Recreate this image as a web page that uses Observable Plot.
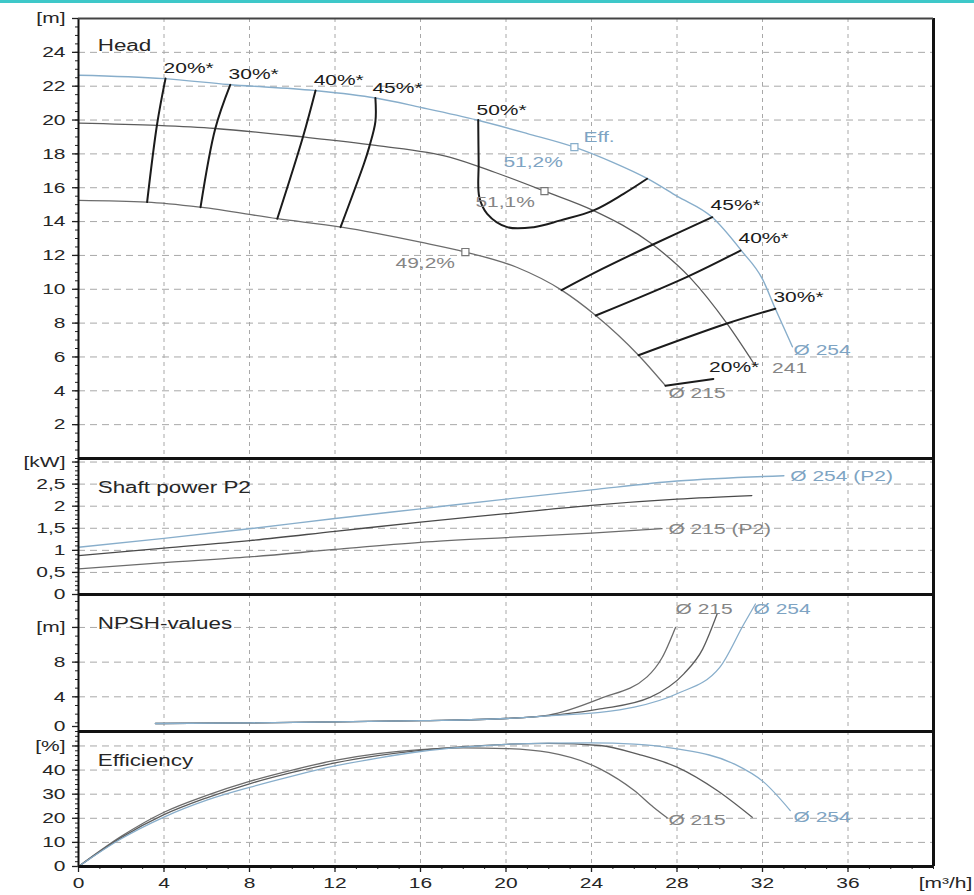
<!DOCTYPE html>
<html><head><meta charset="utf-8">
<script src="https://cdn.jsdelivr.net/npm/d3@7"></script>
<script src="https://cdn.jsdelivr.net/npm/@observablehq/plot@0.6"></script>
<style>
body{margin:0;background:#fff;}
#chart{position:relative;width:974px;height:895px;overflow:hidden;background:#fff;}
#chart svg{position:absolute;left:0;overflow:visible;}
#bar{position:absolute;left:0;top:0;width:974px;height:3px;background:#3ec8c9;z-index:5;}
</style></head>
<body><div id="chart"><div id="bar"></div></div>
<script>
// ---------- shared x axis (flow Q, m³/h) ----------
const xDomain = [0, 40];
const xTicks = [0, 4, 8, 12, 16, 20, 24, 28, 32, 36];
const xGrid = [4, 8, 12, 16, 20, 24, 28, 32, 36];
const xMinor = d3.range(0, 40.001, 1);
const xUnit = ["[m³/h]"];

// ---------- panel titles ----------
const panelTitles = ["Head", "Shaft power P2", "NPSH-values", "Efficiency"];
const panelTitleQ = [0.9, 0.9, 0.9, 0.9];
const panelTitleV = [24.4, 2.42, 12.46, 44];

// ---------- HEAD [m] ----------
const headDomain = [0, 26];
const headTicks = [2, 4, 6, 8, 10, 12, 14, 16, 18, 20, 22, 24, 26];
const headUnitTick = 26, headUnit = "[m]";
const headGrid = [2, 4, 6, 8, 10, 12, 14, 16, 18, 20, 22, 24];
const headMinor = d3.range(0, 26.001, 0.5);

const head254 = [[0,22.65],[4,22.45],[7,22.1],[11,21.75],[13.9,21.3],[16,20.75],[18.65,20.0],[21,19.2],[23.2,18.4],[25,17.5],[26.6,16.55],[28,15.5],[29.65,14.25],[31,12.3],[32,10.6],[32.6,8.85],[33.4,6.6]];
const head241 = [[0,19.82],[3.7,19.68],[6.4,19.5],[10.5,19.0],[13.9,18.5],[17.4,17.8],[19.5,16.9],[21.8,15.8],[24.1,14.65],[26.8,12.7],[28.6,10.7],[30.35,7.95],[31.6,5.6]];
const head215 = [[0,15.25],[3.2,15.15],[5.7,14.85],[9.3,14.17],[12.3,13.67],[16,12.78],[18.1,12.2],[20.5,11.3],[22.6,9.95],[24.2,8.45],[26.2,6.1],[27.46,4.3]];

// iso-efficiency lines
const iso20 = [[4.07,22.45],[3.68,19.78],[3.21,15.15]];
const iso30 = [[7.1,22.08],[6.4,19.5],[5.71,14.85]];
const iso40 = [[11.09,21.75],[10.5,19.0],[9.3,14.17]];
const iso45 = [[13.89,21.3],[13.89,19.9],[13.6,18.4],[13.35,17.4],[12.26,13.67]];
const iso50 = [[18.7,20.0],[18.72,17.5],[18.75,15.45],[19.12,14.46],[20.06,13.67],[21.3,13.67],[22.55,14.07],[24.1,14.66],[25.5,15.64],[26.6,16.53]];
const iso45r = [[22.6,9.95],[24.5,11.2],[26.8,12.6],[29.65,14.26]];
const iso40r = [[24.2,8.45],[28.5,10.75],[30.97,12.29]];
const iso30r = [[26.2,6.1],[30.3,7.96],[32.6,8.85]];
const iso20r = [[27.46,4.3],[29.7,4.7]];

const isoLabels = ["20%*", "30%*", "40%*", "45%*", "50%*", "45%*", "40%*", "30%*", "20%*"];
const isoLabelQ = [3.98, 7.02, 11.0, 13.75, 18.62, 29.57, 30.88, 32.51, 29.5];
const isoLabelH = [23.05, 22.7, 22.34, 21.87, 20.57, 14.95, 13.0, 9.52, 5.38];

// best-efficiency markers
const bepBlueQ = [23.2], bepBlueH = [18.4];
const bepGrayQ = [21.8, 18.1], bepGrayH = [15.8, 12.2];
const blueHeadLabels = ["Eff.", "51,2%", "Ø 254"];
const blueHeadLabelQ = [23.63, 19.88, 33.45];
const blueHeadLabelH = [18.97, 17.49, 6.4];
const grayHeadLabels = ["51,1%", "49,2%", "241", "Ø 215"];
const grayHeadLabelQ = [18.57, 14.83, 32.45, 27.6];
const grayHeadLabelH = [15.13, 11.52, 5.33, 3.84];

// ---------- SHAFT POWER P2 [kW] ----------
const powDomain = [0, 3.08];
const powTicks = [0, 0.5, 1, 1.5, 2, 2.5, 3];
const powUnitTick = 3, powUnit = "[kW]";
const powGrid = [0.5, 1, 1.5, 2, 2.5, 3];
const powMinor = d3.range(0, 3.0001, 0.1);
const pow254 = [[0,1.07],[4,1.27],[8,1.49],[12,1.72],[16,1.94],[20,2.16],[24,2.37],[28,2.57],[33,2.69]];
const pow241 = [[0,0.88],[4,1.05],[8,1.22],[12,1.43],[16,1.64],[20,1.83],[24,2.02],[28,2.16],[31.5,2.24]];
const pow215 = [[0,0.58],[4,0.72],[8,0.85],[12,1.02],[16,1.18],[20,1.29],[24,1.39],[27.3,1.49]];
const powLabels = ["Ø 254 (P2)", "Ø 215 (P2)"];
const powLabelQ = [33.3, 27.6];
const powLabelV = [2.69, 1.49];

// ---------- NPSH [m] ----------
const npshDomain = [0, 15.8];
const npshTicks = [4, 8, 12];
const npshZeroTick = [0];
const npshUnitTick = 12, npshUnit = "[m]";
const npshGrid = [4, 8, 12];
const npshMinor = d3.range(0, 15.001, 1);
const npsh215 = [[3.6,0.92],[8,1.0],[12,1.1],[16,1.25],[20,1.5],[22,1.9],[24.4,3.8],[26.6,6.3],[27.3,8.5],[27.93,12.0]];
const npsh241 = [[3.6,0.92],[8,1.0],[12,1.1],[16,1.25],[20,1.5],[22.5,1.95],[24.4,2.6],[26.76,3.96],[28.32,6.65],[29.2,9.5],[29.88,13.57]];
const npsh254 = [[3.6,0.92],[8,1.0],[12,1.1],[16,1.25],[20,1.5],[22.5,1.9],[24.4,2.2],[26,2.8],[28,4.35],[30,7.4],[31.13,12.4],[31.67,14.7]];
const npshLabels = ["Ø 215", "Ø 254"];
const npshLabelQ = [27.93, 31.58];
const npshLabelV = [14.07, 14.07];

// ---------- EFFICIENCY [%] ----------
const effDomain = [0, 56];
const effTicks = [0, 10, 20, 30, 40, 50];
const effUnitTick = 50, effUnit = "[%]";
const effGrid = [10, 20, 30, 40, 50];
const effMinor = d3.range(0, 56.001, 2);
const eff215 = [[0,0],[2,12.5],[4,22.5],[6,29.5],[8,35.3],[10,40],[12,44],[14,46.8],[16,48.5],[18,49.2],[20,48.9],[22,47.3],[24.4,40.5],[26,31.5],[26.9,24.6],[27.54,20.2]];
const eff241 = [[0,0],[2,12],[4,21.5],[6,28.5],[8,34.3],[10,39],[12,43],[14,46],[16,48.2],[18,49.7],[20,50.7],[22,51.1],[24.4,50.2],[26.2,46.5],[28,41.2],[29.88,31.5],[31.52,20.4]];
const eff254 = [[0,0],[2,11.5],[4,20.5],[6,27.5],[8,32.8],[10,37.5],[12,41.7],[14,45],[16,47.7],[18,49.5],[20,50.7],[22,51.2],[24,51.3],[26,50.8],[28,48.8],[30.66,42.6],[32.06,35],[33.3,23.2]];
const effLabels = ["Ø 215", "Ø 254"];
const effLabelQ = [27.6, 33.45];
const effLabelV = [19.1, 20.3];

// ---------- styling ----------
const W = 974, ML = 78, MR = 41, STRETCH = 1.4;
const FONT = "'Liberation Sans', Arial, Helvetica, sans-serif";
const BLUE = "#88aecb", BLUE_TXT = "#7ea4c3", G241 = "#5c5c5c", G215 = "#6c6c6c", GRAY_TXT = "#858585", INK = "#1b1b1b", TXT = "#262626";
const GRID = "#a8a8a8";
const fmt = (unitTick, unit) => d => d === unitTick ? unit : String(d).replace(".", ",");
const X = d => d[0], Y = d => d[1];
const container = document.getElementById("chart");

function stretchText(svg, s) {
  svg.querySelectorAll("text").forEach(t => {
    const b = t.getBBox();
    const a = getComputedStyle(t).textAnchor;
    const ax = a === "end" ? b.x + b.width : a === "middle" ? b.x + b.width / 2 : b.x;
    const prev = t.getAttribute("transform") || "";
    t.setAttribute("transform", `${prev} translate(${ax},0) scale(${s},1) translate(${-ax},0)`);
  });
}

function line(data, stroke, w = 1.3, curve = "monotone-x") {
  return Plot.line(data, {x: X, y: Y, stroke, strokeWidth: w, curve});
}
function labels(texts, qs, vs, fill, size = 16) {
  return Plot.text(texts, {x: (d, i) => qs[i], y: (d, i) => vs[i], text: d => d,
    textAnchor: "start", lineAnchor: "middle", fill, fontSize: size});
}

function panel({top, height, marginTop = 0, marginBottom = 0, yDomain, yTicks, yFormat, yGrid, yMinor, marks, topWidth = 3}) {
  const svg = Plot.plot({
    width: W, height, marginLeft: ML, marginRight: MR, marginTop, marginBottom,
    x: {domain: xDomain, axis: null},
    y: {domain: yDomain, axis: null, label: null},
    style: {fontFamily: FONT, fontSize: "15px", color: TXT, background: "transparent", overflow: "visible"},
    marks: [
      Plot.gridX(xGrid, {stroke: GRID, strokeOpacity: 1, strokeDasharray: "4,4", strokeWidth: 1}),
      Plot.gridY(yGrid, {stroke: GRID, strokeOpacity: 1, strokeDasharray: "7,5", strokeWidth: 1}),
      Plot.axisY(yMinor, {tickSize: 3, fill: "none", label: null, stroke: "#222"}),
      Plot.axisY(yTicks, {tickSize: 6, tickPadding: 7, tickFormat: yFormat, label: null, fontSize: 15, stroke: "#222", strokeWidth: 1.3}),
      ...marks,
      Plot.ruleX([xDomain[0]], {stroke: "#111", strokeWidth: 2}),
      Plot.ruleX([xDomain[1]], {stroke: "#111", strokeWidth: 3}),
      Plot.ruleY([yDomain[1]], {stroke: topWidth === 3 ? "#111" : "#444", strokeWidth: topWidth}),
      Plot.ruleY([yDomain[0]], {stroke: "#111", strokeWidth: 3})
    ]
  });
  svg.style.top = top + "px";
  container.append(svg);
  stretchText(svg, STRETCH);
  return svg;
}

// HEAD
panel({
  top: 0, height: 458, marginTop: 18, yDomain: headDomain, yTicks: headTicks,
  yFormat: fmt(headUnitTick, headUnit), yGrid: headGrid, yMinor: headMinor, topWidth: 2,
  marks: [
    line(head215, G215), line(head241, G241), line(head254, BLUE, 1.4),
    ...[iso20, iso30, iso40, iso45, iso50, iso45r, iso40r, iso30r, iso20r].map(d => line(d, INK, 2, "catmull-rom")),
    Plot.dot(bepBlueQ, {x: d => d, y: (d, i) => bepBlueH[i], symbol: "square", r: 4, fill: "white", stroke: BLUE, strokeWidth: 1.2}),
    Plot.dot(bepGrayQ, {x: d => d, y: (d, i) => bepGrayH[i], symbol: "square", r: 4, fill: "white", stroke: "#777", strokeWidth: 1.2}),
    labels(isoLabels, isoLabelQ, isoLabelH, INK, 15),
    labels(blueHeadLabels, blueHeadLabelQ, blueHeadLabelH, BLUE_TXT, 15),
    labels(grayHeadLabels, grayHeadLabelQ, grayHeadLabelH, GRAY_TXT, 15),
    labels(panelTitles.slice(0, 1), panelTitleQ.slice(0, 1), panelTitleV.slice(0, 1), TXT, 16)
  ]
});

// SHAFT POWER
panel({
  top: 458, height: 136, yDomain: powDomain, yTicks: powTicks,
  yFormat: fmt(powUnitTick, powUnit), yGrid: powGrid, yMinor: powMinor,
  marks: [
    line(pow215, G215), line(pow241, "#4a4a4a"), line(pow254, BLUE, 1.4),
    labels(powLabels.slice(0, 1), powLabelQ.slice(0, 1), powLabelV.slice(0, 1), BLUE_TXT, 15),
    labels(powLabels.slice(1), powLabelQ.slice(1), powLabelV.slice(1), GRAY_TXT, 15),
    labels(panelTitles.slice(1, 2), panelTitleQ.slice(1, 2), panelTitleV.slice(1, 2), TXT, 16)
  ]
});

// NPSH
panel({
  top: 594, height: 137, yDomain: npshDomain, yTicks: npshTicks,
  yFormat: fmt(npshUnitTick, npshUnit), yGrid: npshGrid, yMinor: npshMinor,
  marks: [
    Plot.axisY(npshZeroTick, {tickSize: 6, tickPadding: 7, label: null, fontSize: 15, stroke: "#222", strokeWidth: 1.3, textAnchor: "end", dy: -5}),
    line(npsh215, G215), line(npsh241, G241), line(npsh254, BLUE, 1.3),
    labels(npshLabels.slice(0, 1), npshLabelQ.slice(0, 1), npshLabelV.slice(0, 1), GRAY_TXT, 15),
    labels(npshLabels.slice(1), npshLabelQ.slice(1), npshLabelV.slice(1), BLUE_TXT, 15),
    labels(panelTitles.slice(2, 3), panelTitleQ.slice(2, 3), panelTitleV.slice(2, 3), TXT, 16)
  ]
});

// EFFICIENCY (with x axis)
panel({
  top: 731, height: 164, marginBottom: 29, yDomain: effDomain, yTicks: effTicks,
  yFormat: fmt(effUnitTick, effUnit), yGrid: effGrid, yMinor: effMinor,
  marks: [
    line(eff215, G215), line(eff241, G241), line(eff254, BLUE, 1.3),
    labels(effLabels.slice(0, 1), effLabelQ.slice(0, 1), effLabelV.slice(0, 1), GRAY_TXT, 15),
    labels(effLabels.slice(1), effLabelQ.slice(1), effLabelV.slice(1), BLUE_TXT, 15),
    labels(panelTitles.slice(3), panelTitleQ.slice(3), panelTitleV.slice(3), TXT, 16),
    Plot.axisX(xMinor, {tickSize: 3, fill: "none", label: null, stroke: "#222"}),
    Plot.axisX(xTicks, {tickSize: 6, tickPadding: 5, label: null, fontSize: 15, stroke: "#222", strokeWidth: 1.3}),
    Plot.text(xUnit, {frameAnchor: "bottom-right", dx: 12, dy: 17, text: d => d, textAnchor: "middle", lineAnchor: "middle", fill: TXT, fontSize: 15})
  ]
});
</script>
</body></html>
